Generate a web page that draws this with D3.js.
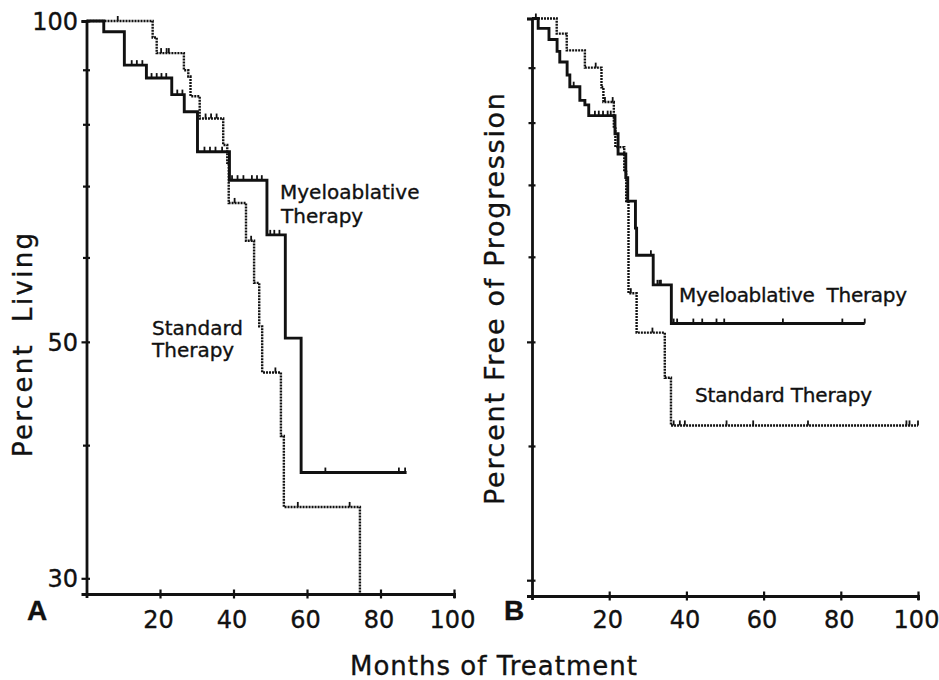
<html>
<head>
<script src="https://d3js.org/d3.v7.min.js"></script>
<style>
  body { margin: 0; background: #fff; }
  text { font-family: "DejaVu Sans", sans-serif; fill: #111; stroke: #111; stroke-width: 0.35px; }
</style>
</head>
<body>
<script>
    ////////////////// data //////////////////
    var monthTicks = [20, 40, 60, 80, 100];
    var pctLabels = [100, 50, 30];
    var pctMinor = [90, 80, 70, 60, 40];

    // A: percent living
    var livMyeloMonths = [0, 4.7, 10.3, 16.3, 23.2, 26.6, 30.2, 38.9, 49.1, 54.1, 58.4, 87.1];
    var livMyeloPct    = [100, 97.7, 90.9, 88.4, 85.3, 82.2, 75.4, 70.9, 63.0, 50.4, 37.7, 37.7];
    var livMyeloCens   = [12.3, 13.7, 15.2, 17.7, 19.1, 20.4, 21.7, 24.7, 26.1, 32.1, 33.6, 35.1, 36.9,
                          39.6, 41.1, 42.7, 45.0, 46.4, 47.7, 50.0, 51.1, 52.5, 65.0, 85.0, 86.7];

    var livStdMonths = [0, 18.0, 19.1, 26.5, 27.7, 28.3, 30.8, 37.2, 38.3, 38.7, 43.4, 45.6, 47.0, 47.8, 52.9, 53.7, 74.4, 74.4];
    var livStdPct    = [100, 96.5, 93.3, 89.9, 88.7, 85.0, 81.0, 76.5, 73.6, 67.5, 62.2, 56.8, 51.7, 46.8, 40.8, 35.0, 0, 0];
    var livStdCens   = [8.5, 20.3, 21.8, 22.4, 32.4, 33.9, 35.4, 40.3, 44.8, 51.4, 57.5, 71.6];

    // B: percent free of progression
    var pfsMyeloMonths = [0, 1.6, 4.4, 6.5, 7.2, 9.1, 9.8, 12.4, 13.7, 14.7, 21.5, 22.3, 24.3, 24.8, 26.8, 27.1, 31.4, 36.1, 86.2];
    var pfsMyeloPct    = [100, 97.9, 95.6, 93.2, 91.1, 88.6, 86.4, 83.9, 83.1, 81.2, 78.1, 74.8, 71.1, 67.6, 63.8, 60.2, 56.5, 52.0, 52.0];
    var pfsMyeloCens   = [10.8, 16.3, 17.3, 18.4, 19.6, 20.4, 30.8, 32.5, 33.0, 33.4, 36.7, 37.6,
                          41.8, 44.1, 47.8, 49.8, 65.0, 80.4, 86.2];

    var pfsStdMonths = [0, 6.4, 9.0, 13.7, 18.0, 18.5, 21.2, 21.6, 23.9, 24.4, 25.0, 27.1, 34.4, 36.0, 100];
    var pfsStdPct    = [100, 96.8, 93.4, 90.0, 86.3, 83.6, 79.0, 75.9, 72.0, 67.6, 55.5, 51.0, 46.3, 41.8, 41.8];
    var pfsStdCens   = [1.0, 16.5, 18.9, 20.9, 25.6, 31.2, 36.7, 38.3, 39.6, 50.4, 57.3, 71.5, 97.0, 97.8, 100];

    ////////////////// settings //////////////////
    var svgWidth = 939;
    var svgHeight = 680;
    var pctFloor = 29;

    var svg = d3.select("body").append("svg")
        .attr("width", svgWidth)
        .attr("height", svgHeight);

    var panels = [
        {
            xRange: [86.5, 454], yRange: [594, 21], showLabels: true,
            curves: [
                { months: livStdMonths, pct: livStdPct, cens: livStdCens, dotted: true },
                { months: livMyeloMonths, pct: livMyeloPct, cens: livMyeloCens, dotted: false }
            ],
            letter: "A", letterX: 27
        },
        {
            xRange: [532, 918], yRange: [596, 18.5], showLabels: false,
            curves: [
                { months: pfsStdMonths, pct: pfsStdPct, cens: pfsStdCens, dotted: true },
                { months: pfsMyeloMonths, pct: pfsMyeloPct, cens: pfsMyeloCens, dotted: false }
            ],
            letter: "B", letterX: 504
        }
    ];

    panels.forEach(drawPanel);

    function drawPanel(p) {
        var x = d3.scaleLinear().domain([0, 100]).range(p.xRange);
        var y = d3.scaleLog().domain([pctFloor, 100]).range(p.yRange).clamp(true);
        var axisY = y(pctFloor);
        var g = svg.append("g");

        // x axis, ticks are little crosses
        var xAxis = g.append("g")
            .attr("transform", "translate(0," + axisY + ")")
            .call(d3.axisBottom(x).tickValues(monthTicks).tickSizeOuter(0).tickSize(4));
        xAxis.select(".domain").attr("stroke", "#111").attr("stroke-width", 2.8);
        xAxis.selectAll(".tick line").attr("y1", -4.5).attr("y2", 4.5)
            .attr("stroke", "#111").attr("stroke-width", 2.2);
        xAxis.selectAll(".tick text")
            .attr("y", 628 - axisY).attr("dy", 0).attr("dx", -2)
            .style("font-family", "DejaVu Sans").style("font-size", "24px").attr("fill", "#111");

        // y axis
        var yAxis = g.append("g")
            .attr("transform", "translate(" + x(0) + ",0)")
            .call(d3.axisLeft(y).tickValues(pctLabels.concat(pctMinor)).tickSizeOuter(0).tickSize(5)
                .tickFormat(function (d) { return (p.showLabels && pctLabels.indexOf(d) >= 0) ? d : ""; }));
        yAxis.select(".domain").attr("stroke", "#111").attr("stroke-width", 2.8);
        yAxis.selectAll(".tick line")
            .attr("x1", function (d) { return pctLabels.indexOf(d) >= 0 ? -5 : -3.5; })
            .attr("x2", 3.5)
            .attr("stroke", "#111").attr("stroke-width", 2.2);
        yAxis.selectAll(".tick text")
            .attr("x", -8.5).attr("dy", "0.36em")
            .style("font-family", "DejaVu Sans").style("font-size", "24px").attr("fill", "#111");

        var line = d3.line()
            .x(function (d) { return x(d[0]); })
            .y(function (d) { return y(d[1]); })
            .curve(d3.curveStepAfter);

        p.curves.forEach(function (c) {
            var pts = c.months.map(function (m, i) { return [m, c.pct[i]]; });
            g.append("path")
                .attr("d", line(pts))
                .attr("fill", "none")
                .attr("stroke", "#111")
                .attr("stroke-width", c.dotted ? 2.4 : 2.9)
                .attr("stroke-dasharray", c.dotted ? "2 1" : null);

            // censor marks: short upticks sitting on the curve
            g.selectAll(null)
                .data(c.cens)
                .enter().append("line")
                .attr("x1", function (m) { return x(m); })
                .attr("x2", function (m) { return x(m); })
                .attr("y1", function (m) { return y(valueAt(c, m)); })
                .attr("y2", function (m) { return y(valueAt(c, m)) - 5; })
                .attr("stroke", "#111")
                .attr("stroke-width", 1.8);
        });

        g.append("text")
            .attr("x", p.letterX).attr("y", 620)
            .style("font-family", "Liberation Sans").style("font-weight", "bold")
            .style("font-size", "28px")
            .text(p.letter);
    }

    function valueAt(c, m) {
        var v = c.pct[0];
        for (var i = 0; i < c.months.length; i++) {
            if (c.months[i] <= m) v = c.pct[i];
        }
        return v;
    }

    ////////////////// titles and curve labels //////////////////
    function addText(txt, xPos, yPos, size, len) {
        var t = svg.append("text")
            .attr("x", xPos).attr("y", yPos)
            .style("font-size", size + "px")
            .text(txt);
        if (len) t.attr("textLength", len).attr("lengthAdjust", "spacing");
        return t;
    }

    addText("Months of Treatment", 350, 675, 26, 287);

    addText("Percent\u00a0\u00a0Living", 0, 0, 26, 224)
        .attr("transform", "translate(32,457) rotate(-90)");
    addText("Percent Free of Progression", 0, 0, 27, 412)
        .attr("transform", "translate(504,505) rotate(-90)");

    addText("Myeloablative", 280, 199, 20);
    addText("Therapy", 281, 223, 20);
    addText("Standard", 152, 335, 20);
    addText("Therapy", 152, 357, 20);

    addText("Myeloablative\u00a0 Therapy", 679, 302, 20, 228);
    addText("Standard Therapy", 695, 402, 20, 177);
</script>
</body>
</html>
